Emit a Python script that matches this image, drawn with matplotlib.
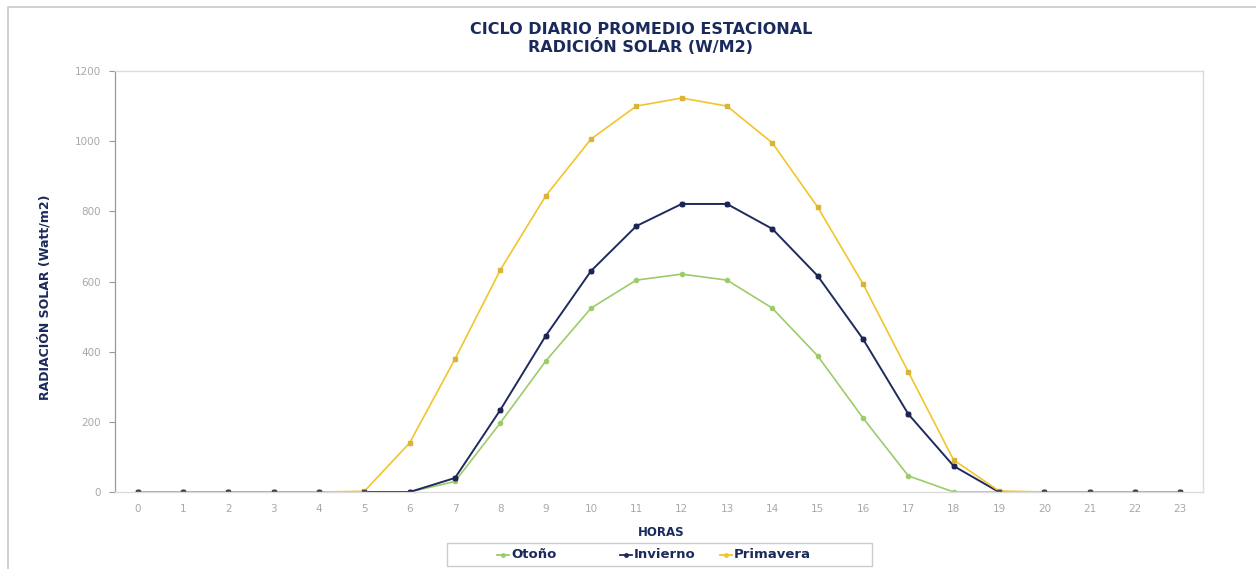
import matplotlib
matplotlib.use("Agg")
import matplotlib.pyplot as plt
from matplotlib.patches import Rectangle
from matplotlib.lines import Line2D

hours = list(range(24))
hour_labels = [str(h) for h in hours]

otono = [0, 0, 0, 0, 0, 0, 0, 30, 197, 373, 524, 604, 621, 604, 524, 388, 211, 46, 0, 0, 0, 0, 0, 0]
invierno = [0, 0, 0, 0, 0, 0, 0, 40, 234, 445, 630, 758, 821, 821, 750, 616, 436, 222, 74, 0, 0, 0, 0, 0]
primavera = [0, 0, 0, 0, 0, 2, 140, 379, 633, 844, 1006, 1100, 1123, 1100, 995, 812, 593, 342, 91, 3, 0, 0, 0, 0]

series_names = ["Otoño", "Invierno", "Primavera"]
y_ticks = [0, 200, 400, 600, 800, 1000, 1200]

navy = "#1b2a5c"
c_otono = "#9ccc6a"
c_invierno = "#1f2b5e"
c_prim = "#f2c52a"
tick_gray = "#a8a8a8"

W, H = 1256, 569
fig = plt.figure(figsize=(W / 100, H / 100), dpi=100)
fig.patch.set_facecolor("white")

# outer chart frame
fig.add_artist(Rectangle((8 / W, -0.05), 1.2, (H - 7) / H + 0.05, transform=fig.transFigure,
                         fill=False, edgecolor="#c8c8c8", linewidth=1.2))

ax = fig.add_axes([115 / W, 1 - 492 / H, (1203 - 115) / W, (492 - 71) / H])

ax.plot(hours, otono, color=c_otono, lw=1.2, marker="o", ms=3, mfc=c_otono, mec=c_otono)
ax.plot(hours, invierno, color=c_invierno, lw=1.4, marker="o", ms=3.2, mfc=c_invierno, mec=c_invierno)
ax.plot(hours, primavera, color=c_prim, lw=1.2, marker="s", ms=2.6, mfc="#d8b43a", mec="#d8b43a")
# overlapping markers of the lower series show through
ax.plot(hours, invierno, ls="none", marker="s", ms=3.0, mfc="#1c2450", mec="#1c2450", alpha=0.7)

ax.set_xlim(-0.5, 23.5)
ax.set_ylim(0, 1200)
ax.set_xticks(hours)
ax.set_xticklabels(hour_labels)
ax.set_yticks(y_ticks)
ax.tick_params(axis="x", length=0, pad=9, labelsize=7.5, labelcolor=tick_gray)
ax.tick_params(axis="y", length=4, width=0.8, color="#999999", pad=6, labelsize=7.5, labelcolor=tick_gray)

for s in ["top", "right", "bottom"]:
    ax.spines[s].set_color("#dcdcdc")
    ax.spines[s].set_linewidth(1.0)
ax.spines["left"].set_color("#999999")
ax.spines["left"].set_linewidth(0.9)

fig.text(641 / W, 1 - 30 / H, "CICLO DIARIO PROMEDIO ESTACIONAL", ha="center", va="center",
         fontsize=11.5, fontweight="bold", color=navy)
fig.text(641 / W, 1 - 47 / H, "RADICIÓN SOLAR (W/M2)", ha="center", va="center",
         fontsize=11.5, fontweight="bold", color=navy)

fig.text(45 / W, 1 - 297 / H, "RADIACIÓN SOLAR (Watt/m2)", rotation=90, ha="center", va="center",
         fontsize=9, fontweight="bold", color=navy)
fig.text(661 / W, 1 - 532 / H, "HORAS", ha="center", va="center",
         fontsize=8.5, fontweight="bold", color=navy)

# legend
fig.add_artist(Rectangle((447 / W, 1 - 566 / H), (872 - 447) / W, 23 / H, transform=fig.transFigure,
                         fill=False, edgecolor="#cccccc", linewidth=1.0))
leg_x = [497, 620, 720]
leg_colors = [c_otono, c_invierno, c_prim]
leg_y = 1 - 555 / H
for x0, name, col in zip(leg_x, series_names, leg_colors):
    fig.add_artist(Line2D([x0 / W, (x0 + 12) / W], [leg_y, leg_y], transform=fig.transFigure,
                          color=col, lw=1.3))
    fig.add_artist(Line2D([(x0 + 6) / W], [leg_y], transform=fig.transFigure,
                          color=col, marker="o", ms=2.5, ls="none"))
    fig.text((x0 + 14) / W, leg_y, name, ha="left", va="center", fontsize=9.5,
             fontweight="bold", color=navy)

fig.savefig("out.png", dpi=100, facecolor="white")
